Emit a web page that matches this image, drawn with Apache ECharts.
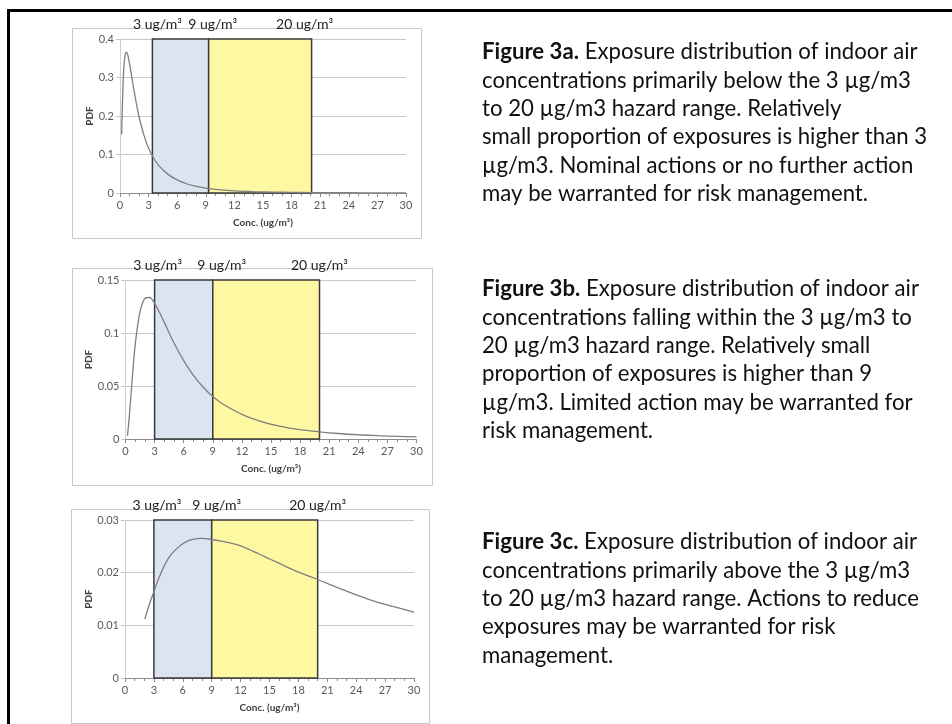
<!DOCTYPE html>
<html><head><meta charset="utf-8">
<script src="https://cdn.jsdelivr.net/npm/echarts@6/dist/echarts.min.js"></script>
<style>html,body{margin:0;padding:0;background:#fff}#c{width:952px;height:724px}</style>
</head><body><div id="c"></div>
<script>
// ---- data ----
const xA = [0.17,0.25,0.35,0.45,0.55,0.65,0.8,1.0,1.25,1.5,1.75,2,2.5,3,3.5,4,5,6,7,8,9,10,12,14,16,18,20,24,28,30];
const pdfA = [0.152,0.229,0.300,0.341,0.360,0.366,0.360,0.336,0.299,0.262,0.228,0.198,0.151,0.116,0.092,0.073,0.049,0.034,0.024,0.017,0.0125,0.0093,0.0056,0.0036,0.0024,0.0016,0.0011,0.0006,0.0003,0.0003];
const xB = [0.2,0.4,0.6,0.8,1.0,1.3,1.6,2,2.5,3,3.5,4,5,6,7,8,9,10,12,14,16,18,20,22,24,26,28,30];
const pdfB = [0.003,0.022,0.046,0.069,0.089,0.110,0.124,0.1325,0.1335,0.128,0.1195,0.110,0.0905,0.074,0.060,0.049,0.040,0.0332,0.0232,0.0165,0.0119,0.0088,0.0068,0.0052,0.0040,0.0031,0.0025,0.0020];
const xC = [2.06,2.5,3,3.5,4,4.5,5,6,7,8,9,10,11,12,13,14,15,16,17,18,19,20,22,24,26,28,30];
const pdfC = [0.0112,0.0138,0.0164,0.0189,0.021,0.0227,0.0239,0.0255,0.0263,0.0265,0.0263,0.026,0.0256,0.0251,0.0243,0.0235,0.0226,0.0218,0.0209,0.0201,0.0194,0.0187,0.0172,0.0158,0.0145,0.0135,0.0125];
const bandsA = [3.4, 9.3, 20.1];
const bandsB = [3, 9, 20];
const bandsC = [3, 9, 20];
const bandLabels = ['3 ug/m³', '9 ug/m³', '20 ug/m³'];
const yMax = [0.4, 0.15, 0.03];
const yStep = [0.1, 0.05, 0.01];
const xName = 'Conc. (ug/m³)';
const yName = 'PDF';
const captions = [
  ['Figure 3a.', ' Exposure distribution of indoor air', 'concentrations primarily below the 3 µg/m3', 'to 20 µg/m3 hazard range. Relatively', 'small proportion of exposures is higher than 3', 'µg/m3. Nominal actions or no further action', 'may be warranted for risk management.'],
  ['Figure 3b.', ' Exposure distribution of indoor air', 'concentrations falling within the 3 µg/m3 to', '20 µg/m3 hazard range. Relatively small', 'proportion of exposures is higher than 9', 'µg/m3. Limited action may be warranted for', 'risk management.'],
  ['Figure 3c.', ' Exposure distribution of indoor air', 'concentrations primarily above the 3 µg/m3', 'to 20 µg/m3 hazard range. Actions to reduce', 'exposures may be warranted for risk', 'management.']
];

// ---- layout ----
const FONT = 'Lato';
const grids = [
  {left:120, top:39, width:286, height:154},
  {left:125.5, top:280, width:291, height:159},
  {left:125, top:520, width:289, height:158}
];
const yGaps = [23, 29, 29];
const labelShift = [[5,4,-7],[3,9,0],[3,5,0]];
const boxes = [[72,28,349,210],[72,268,360,217],[71,509,358,214]];
const capTops = [41, 278, 531];

const chart = echarts.init(document.getElementById('c'));
const xAxes = [], yAxes = [], series = [];
const curves = [[xA,pdfA],[xB,pdfB],[xC,pdfC]];
const bands = [bandsA,bandsB,bandsC];
for (let i=0;i<3;i++){
  xAxes.push({gridIndex:i, type:'value', min:0, max:30, interval:3,
    name:xName, nameLocation:'middle', nameGap:25,
    nameTextStyle:{fontFamily:FONT, fontSize:10, fontWeight:'bold', color:'#404040'},
    axisLine:{show:true, lineStyle:{color:'#8c8c8c', width:1}},
    axisTick:{show:true, length:4, lineStyle:{color:'#8c8c8c'}},
    minorTick:{show:true, splitNumber:3, length:3, lineStyle:{color:'#8c8c8c'}},
    axisLabel:{fontFamily:FONT, fontSize:11, color:'#595959', margin:7},
    splitLine:{show:false}});
  yAxes.push({gridIndex:i, type:'value', min:0, max:yMax[i], interval:yStep[i],
    name:yName, nameLocation:'middle', nameRotate:90, nameGap:yGaps[i],
    nameTextStyle:{fontFamily:FONT, fontSize:10, fontWeight:'bold', color:'#404040'},
    axisLine:{show:true, lineStyle:{color:'#d0d0d0'}},
    axisTick:{show:true, length:4, lineStyle:{color:'#c8c8c8'}},
    axisLabel:{fontFamily:FONT, fontSize:11, color:'#595959', margin:6},
    splitLine:{show:true, lineStyle:{color:'#c8c8c8', width:1}}});
  const b = bands[i];
  series.push({type:'line', xAxisIndex:i, yAxisIndex:i, data:[[0,0]], symbol:'none', lineStyle:{width:0}, z:1, silent:true,
    markArea:{silent:true, data:[
      [{xAxis:b[0], yAxis:0, itemStyle:{color:'#dbe4f0', borderColor:'#3a3a3a', borderWidth:1.5}},{xAxis:b[1], yAxis:yMax[i]}],
      [{xAxis:b[1], yAxis:0, itemStyle:{color:'#fff8a3', borderColor:'#3a3a3a', borderWidth:1.5}},{xAxis:b[2], yAxis:yMax[i]}]
    ]},
    markLine:{silent:true, symbol:'none', animation:false,
      lineStyle:{color:'rgba(0,0,0,0)', width:1, type:'solid'},
      label:{show:true, position:'end', distance:8, fontFamily:FONT, fontSize:14, color:'#222'},
      data:b.map((v,k)=>({xAxis:v, label:{formatter:bandLabels[k], offset:[labelShift[i][k],0]}}))}
  });
  series.push({type:'line', xAxisIndex:i, yAxisIndex:i, z:5, smooth:0.3, showSymbol:false,
    lineStyle:{color:'#7f7f7f', width:1.3},
    data:curves[i][0].map((x,k)=>[x,curves[i][1][k]])});
}

const graphic = [
  {type:'rect', shape:{x:7,y:9,width:950,height:3}, style:{fill:'#000'}},
  {type:'rect', shape:{x:7,y:9,width:3,height:720}, style:{fill:'#000'}}
];
boxes.forEach(bx=>graphic.push({type:'rect', z:-1, shape:{x:bx[0]+0.5,y:bx[1]+0.5,width:bx[2],height:bx[3]}, style:{fill:'none', stroke:'#c8c8c8', lineWidth:1}}));
captions.forEach((c,i)=>{
  const txt = '{b|'+c[0]+'}{n|'+c[1]+'}\n' + c.slice(2).map(s=>'{n|'+s+'}').join('\n');
  graphic.push({type:'text', left:482, top:capTops[i], style:{text:txt, fill:'#111',
    rich:{b:{fontFamily:FONT, fontSize:22.2, fontWeight:'bold', lineHeight:28.4, fill:'#111'},
          n:{fontFamily:FONT, fontSize:22.2, lineHeight:28.4, fill:'#111'}}}});
});

chart.setOption({animation:false, textStyle:{fontFamily:FONT},
  grid:grids, xAxis:xAxes, yAxis:yAxes, series:series, graphic:graphic});
</script></body></html>
